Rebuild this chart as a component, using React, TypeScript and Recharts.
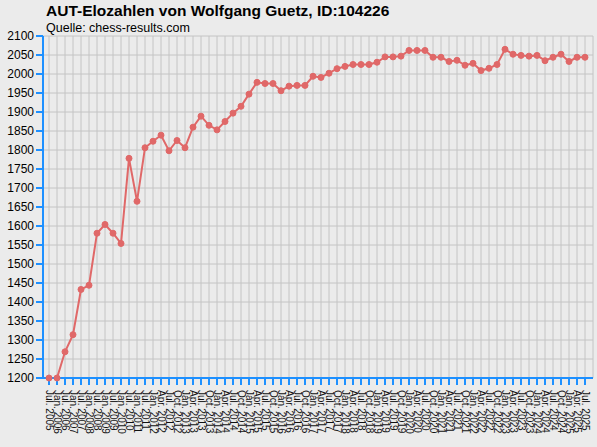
import { CartesianGrid, Line, LineChart, XAxis, YAxis } from "recharts";

const monthLabels = [
  "Jul. 2005", "Jan. 2006", "Jul. 2006", "Jan. 2007", "Jul. 2007", "Jan. 2008", "Jul. 2008",
  "Jan. 2009", "Jul. 2009", "Jan. 2010", "Jul. 2010", "Jan. 2011", "Jul. 2011",
  "Jan. 2012", "Apr. 2012", "Jul. 2012", "Oct. 2012",
  "Jan. 2013", "Apr. 2013", "Jul. 2013", "Oct. 2013",
  "Jan. 2014", "Apr. 2014", "Jul. 2014", "Oct. 2014",
  "Jan. 2015", "Apr. 2015", "Jul. 2015", "Oct. 2015",
  "Jan. 2016", "Apr. 2016", "Jul. 2016", "Oct. 2016",
  "Jan. 2017", "Apr. 2017", "Jul. 2017", "Oct. 2017",
  "Jan. 2018", "Apr. 2018", "Jul. 2018", "Oct. 2018",
  "Jan. 2019", "Apr. 2019", "Jul. 2019", "Oct. 2019",
  "Jan. 2020", "Apr. 2020", "Jul. 2020", "Oct. 2020",
  "Jan. 2021", "Apr. 2021", "Jul. 2021", "Oct. 2021",
  "Jan. 2022", "Apr. 2022", "Jul. 2022", "Oct. 2022",
  "Jan. 2023", "Apr. 2023", "Jul. 2023", "Oct. 2023",
  "Jan. 2024", "Apr. 2024", "Jul. 2024", "Oct. 2024",
  "Jan. 2025", "Apr. 2025", "Jul. 2025",
];

const eloValues = [
  1200, 1200, 1269, 1314, 1433, 1444, 1581, 1604, 1581, 1554, 1778, 1665, 1806,
  1823, 1839, 1798, 1825, 1806, 1860, 1889, 1865, 1853, 1875, 1897, 1915, 1947,
  1978, 1975, 1975, 1956, 1968, 1970, 1970, 1994, 1991, 2002, 2014, 2020, 2025,
  2025, 2025, 2031, 2045, 2045, 2047, 2062, 2062, 2062, 2044, 2044, 2033, 2036,
  2023, 2028, 2009, 2015, 2025, 2065, 2052, 2049, 2047, 2049, 2035, 2044, 2052,
  2033, 2044, 2044,
];

const yTicks = [
  1200, 1250, 1300, 1350, 1400, 1450, 1500, 1550, 1600, 1650, 1700, 1750, 1800,
  1850, 1900, 1950, 2000, 2050, 2100,
];

const data = monthLabels.map((label, i) => ({ label, elo: eloValues[i] }));

const AXIS_BLUE = "#1e90ff";
const LINE_RED = "#e06868";
const FONT = "'Liberation Sans', Arial, sans-serif";

function RotatedTick(props: any) {
  const { x, y, payload } = props;
  return (
    <text
      transform={`translate(${x}, ${y + 3}) rotate(90)`}
      textAnchor="start"
      dy="0.35em"
      fontSize={10}
      fontFamily={FONT}
      fill="#111"
    >
      {payload.value}
    </text>
  );
}

export default function App() {
  return (
    <div
      style={{
        position: "absolute",
        left: 0,
        top: 0,
        width: 597,
        height: 447,
        background: "#ebebeb",
      }}
    >
      <LineChart
        width={597}
        height={447}
        data={data}
        margin={{ top: 36, right: 4, bottom: 0, left: 0 }}
      >
        <CartesianGrid stroke="#c4c4c4" strokeWidth={1} />
        <XAxis
          dataKey="label"
          interval={0}
          height={69}
          padding={{ left: 6, right: 8 }}
          tick={<RotatedTick />}
          tickSize={7}
          tickLine={{ stroke: AXIS_BLUE, strokeWidth: 2 }}
          axisLine={{ stroke: AXIS_BLUE, strokeWidth: 2 }}
        />
        <YAxis
          domain={[1200, 2100]}
          ticks={yTicks}
          interval={0}
          width={43}
          tickSize={7}
          tickMargin={2}
          tick={{ fontSize: 12, fontFamily: FONT, fill: "#000" }}
          tickLine={{ stroke: AXIS_BLUE, strokeWidth: 2 }}
          axisLine={{ stroke: AXIS_BLUE, strokeWidth: 2 }}
        />
        <Line
          type="linear"
          dataKey="elo"
          stroke={LINE_RED}
          strokeWidth={2}
          dot={{ r: 3, fill: LINE_RED, stroke: LINE_RED, strokeWidth: 1 }}
          isAnimationActive={false}
        />
      </LineChart>
      <svg
        width={597}
        height={40}
        style={{ position: "absolute", left: 0, top: 0, pointerEvents: "none" }}
      >
        <text x={46} y={16} fontSize={15.5} fontWeight="bold" fontFamily={FONT} fill="#000">
          AUT-Elozahlen von Wolfgang Guetz, ID:104226
        </text>
        <text x={46} y={31.5} fontSize={12.5} fontFamily={FONT} fill="#000">
          Quelle: chess-results.com
        </text>
      </svg>
    </div>
  );
}
